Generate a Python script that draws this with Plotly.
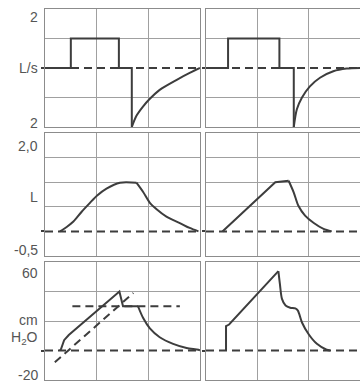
import plotly.graph_objects as go
from plotly.subplots import make_subplots

# ---------------- data (time in grid units, 3 units per panel) ----------------
# Flow (L/s)
t_flow_l_step = [0, 0.50, 0.50, 1.43, 1.43, 1.68, 1.68]
flow_l_step = [0, 0, 1, 1, 0, 0, -2]
t_flow_l_exp = [1.68, 1.77, 1.90, 2.02, 2.22, 2.55, 2.81, 3.0]
flow_l_exp = [-2, -1.62, -1.30, -1.06, -0.74, -0.40, -0.16, 0]

t_flow_r_step = [0, 0.43, 0.43, 1.43, 1.43, 1.71, 1.71]
flow_r_step = [0, 0, 1, 1, 0, 0, -2]
t_flow_r_exp = [1.71, 1.77, 1.87, 2.02, 2.22, 2.48, 2.74, 3.0]
flow_r_exp = [-2, -1.40, -1.0, -0.63, -0.33, -0.11, -0.02, 0]

# Volume (L)
t_vol_l_rise = [0.29, 0.42, 0.55, 0.71, 0.87, 1.01, 1.19, 1.45, 1.77]
vol_l_rise = [0, 0.09, 0.2, 0.4, 0.58, 0.73, 0.87, 0.99, 0.99]
t_vol_l_fall = [1.77, 1.90, 2.03, 2.16, 2.35, 2.61, 2.80, 2.97]
vol_l_fall = [0.99, 0.8, 0.58, 0.45, 0.3, 0.17, 0.07, 0]

t_vol_r_rise = [0.32, 1.35, 1.61]
vol_r_rise = [0, 1.0, 1.03]
t_vol_r_fall = [1.61, 1.71, 1.80, 1.93, 2.10, 2.29, 2.45]
vol_r_fall = [1.03, 0.79, 0.52, 0.32, 0.17, 0.05, 0]

# Pressure (cm H2O)
t_p_l_rise = [0.29, 0.31, 0.37, 0.46, 1.44, 1.51, 1.80]
p_l_rise = [0, 1, 7, 10.5, 40, 30, 30]
t_p_l_fall = [1.80, 1.90, 2.03, 2.22, 2.48, 2.74, 2.97, 3.0]
p_l_fall = [30, 22, 15, 9, 4.5, 1.7, 0.5, 0]
t_p_l_diag = [0.19, 1.71]
p_l_diag = [-8, 39]
t_p_l_plateau = [0.53, 2.61]
p_l_plateau = [30, 30]

t_p_r_rise = [0.39, 0.39, 0.45, 1.41]
p_r_rise = [0, 16.6, 17.6, 53.8]
t_p_r_fall = [1.41, 1.44, 1.48, 1.55, 1.64, 1.74, 1.79, 1.87, 2.0, 2.16, 2.35, 2.42]
p_r_fall = [53.8, 45, 35, 30.5, 29, 28.5, 27, 19, 11, 4.5, 0.5, 0]

t_zero = [0, 3]
zero_vals = [0, 0]

labels = ["2", "L/s", "2", "2,0", "L", "-0,5", "60", "cm", "H<sub>2</sub>O", "-20"]

# ---------------- figure ----------------
W, H = 360, 383
fig = make_subplots(rows=3, cols=2)

CURVE = "#3d3d3d"
GRID = "#a0a0a0"
BORDER = "#8c8c8c"


def line(x, y, row, col, shape="linear", dash=None):
    fig.add_trace(go.Scatter(x=x, y=y, mode="lines",
                             line=dict(color=CURVE, width=2, shape=shape,
                                       dash=dash, smoothing=0.8),
                             hoverinfo="skip"), row=row, col=col)


for c in (1, 2):
    line(t_zero, zero_vals, 1, c, dash="8px,5px")
    line(t_zero, zero_vals, 2, c, dash="8px,5px")
    line(t_zero, zero_vals, 3, c, dash="8px,5px")

line(t_flow_l_step, flow_l_step, 1, 1)
line(t_flow_l_exp, flow_l_exp, 1, 1, shape="spline")
line(t_flow_r_step, flow_r_step, 1, 2)
line(t_flow_r_exp, flow_r_exp, 1, 2, shape="spline")

line(t_vol_l_rise, vol_l_rise, 2, 1, shape="spline")
line(t_vol_l_fall, vol_l_fall, 2, 1, shape="spline")
line(t_vol_r_rise, vol_r_rise, 2, 2)
line(t_vol_r_fall, vol_r_fall, 2, 2, shape="spline")

line(t_p_l_diag, p_l_diag, 3, 1, dash="8px,5px")
line(t_p_l_plateau, p_l_plateau, 3, 1, dash="8px,5px")
line(t_p_l_rise, p_l_rise, 3, 1)
line(t_p_l_fall, p_l_fall, 3, 1, shape="spline")
line(t_p_r_rise, p_r_rise, 3, 2)
line(t_p_r_fall, p_r_fall, 3, 2, shape="spline")


def px_x(a, b):
    return [a / W, b / W]


def px_y(top, bottom):
    return [1 - bottom / H, 1 - top / H]


col_dom = {1: px_x(45, 200), 2: px_x(206, 361)}
row_dom = {1: px_y(9, 127), 2: px_y(133, 256), 3: px_y(262, 380)}
row_range = {1: [-2, 2], 2: [-0.5, 2], 3: [-20, 60]}
row_grid = {1: [-1, 1], 2: [0.5, 1.0, 1.5], 3: [20, 40]}

for r in (1, 2, 3):
    for c in (1, 2):
        fig.update_xaxes(row=r, col=c, domain=[col_dom[c][0], min(col_dom[c][1], 1.0)],
                         range=[0, 3],
                         tickmode="array", tickvals=[1, 2], showticklabels=False,
                         ticks="", showgrid=True, gridcolor=GRID, gridwidth=1.2,
                         showline=True, linecolor=BORDER, linewidth=1.3,
                         mirror=True, zeroline=False)
        fig.update_yaxes(row=r, col=c, domain=row_dom[r], range=row_range[r],
                         tickmode="array", tickvals=row_grid[r],
                         showticklabels=False, ticks="", showgrid=True,
                         gridcolor=GRID, gridwidth=1.2, showline=True,
                         linecolor=BORDER, linewidth=1.3,
                         mirror=(c == 1), zeroline=False,
                         minor=dict(tickmode="array", tickvals=[0], ticks="outside",
                                    ticklen=3, tickwidth=2, tickcolor=CURVE,
                                    showgrid=False))

label_y = [17, 68, 123, 146, 197, 250, 273, 320, 338, 375]
for txt, yp in zip(labels, label_y):
    fig.add_annotation(text=txt, xref="paper", yref="paper", x=40 / W,
                       y=1 - yp / H, xanchor="right", yanchor="middle",
                       showarrow=False,
                       font=dict(family="Liberation Sans, Arial", size=14,
                                 color="#555555"))

fig.update_layout(width=W, height=H, margin=dict(l=0, r=0, t=0, b=0),
                  paper_bgcolor="white", plot_bgcolor="white",
                  showlegend=False)

fig.write_html("out.html", config={"displayModeBar": False},
               post_script="document.body.style.margin='0';"
                           "document.body.style.overflow='hidden';")
